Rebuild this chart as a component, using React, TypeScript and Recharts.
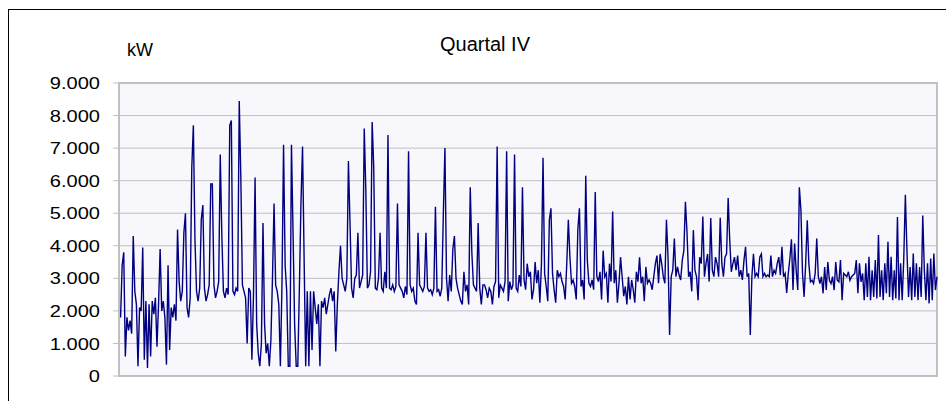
import React from 'react';
import { LineChart, Line, XAxis, YAxis, CartesianGrid, ReferenceArea } from 'recharts';

const loadSeg1 = [
  2100, 1800, 3400, 3800, 600, 1800, 1400, 1700, 1300, 4300,
  2600, 2200, 300, 2100, 2000, 3950, 500, 2300, 250, 2200,
  600, 2300, 1900, 2400, 900, 2200, 3900, 2000, 2300, 1800,
  350, 3400, 800, 2100, 1800, 2200, 1700, 4500, 2900, 2300,
  2600, 4400, 5000, 2100, 1800, 2400, 6400, 7700, 4200, 2600,
  2300, 2700, 4800, 5250, 2700, 2300, 2500, 2800, 5900, 5900,
  2800, 2400, 2600, 2900, 6800, 4300, 2600, 2400, 2700, 2500,
  7700, 7850, 2600, 2500, 2700, 2600, 8450, 6100, 2800, 2600,
  2400, 1000, 2700, 2600, 500, 2500,
];

const loadSeg2 = [
  6100, 1600, 700, 300, 1000, 4700, 1600, 700, 1000, 300,
  1100, 3000, 5300, 2800, 2600, 2200, 300, 2800, 7100, 3400,
  2600, 300, 300, 7100, 4400, 1600, 300, 300, 2700, 5300,
  7050, 3600, 300, 2600, 300, 2600, 800, 2600, 2100, 1600,
  2200, 300, 2300, 2100, 2400, 1900, 2200, 2500, 2700, 2300,
  2600, 750, 2200, 3200, 4000, 3000, 2800, 2600, 3000, 6600,
  4700, 2700, 2400, 3000, 3100, 4400, 2700, 2900, 3100, 7600,
  5700, 2700, 2800, 3200, 7800, 6400, 2700, 2650, 3000, 4400,
  2700, 2600, 3200, 2700, 7400,
];

const loadSeg3 = [
  2700, 2650, 2800, 2600, 2750, 5300, 2800, 2700, 2600, 2400,
  2750, 2500, 6900, 2800, 2600, 2700, 2300, 2200, 4400, 2800,
  2700, 2600, 2750, 4400, 2700, 2600, 2650, 2500, 2700, 5200,
  2600, 2650, 2450, 2700, 5000, 7000, 3000, 2300, 3100, 2600,
  3900, 4300, 3000, 2700, 2500, 2300, 2200, 3200, 2600, 2800,
  2200, 5800, 3800, 2800, 2700, 2600, 4700, 2700, 2200, 2800,
  2800, 2650, 2400, 2700, 2600, 2200, 2750, 2900, 7050, 2400,
  2800, 2700, 2600, 2900, 6900, 2300, 2900, 2650, 2800, 6800,
  2700, 2600, 3100, 2750, 5800,
];

const loadSeg4 = [
  2950, 2650, 3450, 3050, 3200, 2350, 2650, 3500, 2850, 3250,
  2250, 3450, 6700, 3150, 2750, 2300, 4800, 5150, 3150, 2650,
  2250, 3250, 3050, 3150, 2900, 2750, 2350, 3450, 4800, 3650,
  2850, 2950, 2750, 2350, 4500, 5150, 2750, 2950, 2350, 6150,
  3550, 2850, 2750, 2950, 2650, 5650, 3050, 2900, 3200, 2350,
  3850, 3050, 3150, 2250, 3450, 2900, 5050, 2850, 3250, 2250,
  2850, 3650, 3050, 2450, 2750, 2200, 3050, 2350, 2950, 2650,
  2250, 3200, 2900, 3650, 2850, 3050, 2300, 3350, 2850, 2950,
  2850, 2650, 3050, 3450, 3700,
];

const loadSeg5 = [
  2850, 3750, 3450, 3050, 2850, 4800, 3650, 1260, 3050, 3250,
  4220, 3050, 3350, 3100, 2950, 3550, 3850, 5350, 4400, 3050,
  3200, 2600, 4480, 3250, 3050, 2330, 3650, 3450, 4900, 3050,
  3450, 3750, 2900, 4850, 3250, 3050, 3650, 3450, 3050, 4860,
  3450, 3050, 3650, 3750, 5470, 4170, 3200, 3450, 3650, 3250,
  3700, 3050, 3250, 2950, 3550, 3970, 3050, 3150, 1260, 3050,
  3750, 3050, 3150, 3050, 3650, 3750, 3050, 3150, 3050, 3100,
  3050, 3700, 3050, 3250, 3150, 3450, 3650, 3100, 3970, 3050,
  3150, 2550, 3150, 3600, 4200,
];

const loadSeg6 = [
  2640, 4070, 3250, 2640, 5800, 5090, 3150, 2430, 3460, 4780,
  3460, 2890, 2940, 2840, 3150, 4220, 3050, 2840, 3050, 2540,
  3350, 2640, 3500, 2940, 2840, 3050, 2640, 3500, 2940, 2890,
  3560, 2330, 3150, 3100, 3050, 3200, 2940, 3050, 3100, 3150,
  3560, 2540, 3460, 2890, 3150, 2330, 3460, 2430, 3660, 2330,
  3250, 2430, 3560, 2380, 4330, 2430, 3250, 2330, 3460, 2540,
  4120, 2430, 3660, 2330, 3250, 2380, 4880, 2330, 3460, 2330,
  3610, 5570, 3860, 2430, 3350, 2330, 3760, 2430, 3460, 2330,
  3350, 2430, 4930, 3250, 2330, 3460, 2230, 3610, 2330, 3760,
  2640, 3050,
];

const yTicks = [0, 1000, 2000, 3000, 4000, 5000, 6000, 7000, 8000, 9000];
const chartTitle = 'Quartal IV';
const unitLabel = 'kW';

const series = [...loadSeg1, ...loadSeg2, ...loadSeg3, ...loadSeg4, ...loadSeg5, ...loadSeg6];
const data = series.map((kw, i) => ({ i, kw }));

const FONT = "'Liberation Sans', Arial, Helvetica, sans-serif";
const GRID = '#C0C0C0';

// Tausenderpunkt wie im Original
const fmt = (v: number) => String(v).replace(/\B(?=(\d{3})+(?!\d))/g, '.');

const YTick = ({ x, y, payload }: any) => (
  <g transform={`translate(${x},${y})`}>
    <text transform="scale(1.18,1)" textAnchor="end" dy="0.36em" fontSize={17} fill="#000" fontFamily={FONT}>
      {fmt(payload.value)}
    </text>
  </g>
);

export default function App() {
  return (
    <div
      style={{
        position: 'fixed',
        left: 8,
        top: 9,
        width: 938,
        height: 392,
        boxSizing: 'border-box',
        borderTop: '1px solid #000',
        borderLeft: '1px solid #000',
        background: '#fff',
      }}
    >
      <LineChart width={937} height={391} data={data} margin={{ top: 73, right: 9, bottom: 25, left: 0 }}>
        <CartesianGrid vertical={false} stroke={GRID} fill="#F8F7FC" fillOpacity={1} />
        <XAxis dataKey="i" type="number" domain={[0, series.length - 1]} hide />
        <YAxis
          domain={[0, 9000]}
          ticks={yTicks}
          interval={0}
          width={110}
          tickSize={6}
          tickMargin={13}
          axisLine={{ stroke: GRID, strokeWidth: 2 }}
          tickLine={{ stroke: GRID }}
          tick={<YTick />}
        />
        <ReferenceArea
          x1={0}
          x2={series.length - 1}
          y1={0}
          y2={9000}
          fill="none"
          stroke={GRID}
          strokeWidth={2}
          ifOverflow="visible"
        />
        <Line type="linear" dataKey="kw" stroke="#000080" strokeWidth={1.4} dot={false} isAnimationActive={false} />
      </LineChart>
      <svg width={937} height={391} style={{ position: 'absolute', left: 0, top: 0, pointerEvents: 'none' }}>
        <text x={476} y={41} textAnchor="middle" fontSize={20} fontFamily={FONT} fill="#000">
          {chartTitle}
        </text>
        <text x={118} y={46} fontSize={18} fontFamily={FONT} fill="#000">
          {unitLabel}
        </text>
      </svg>
    </div>
  );
}
